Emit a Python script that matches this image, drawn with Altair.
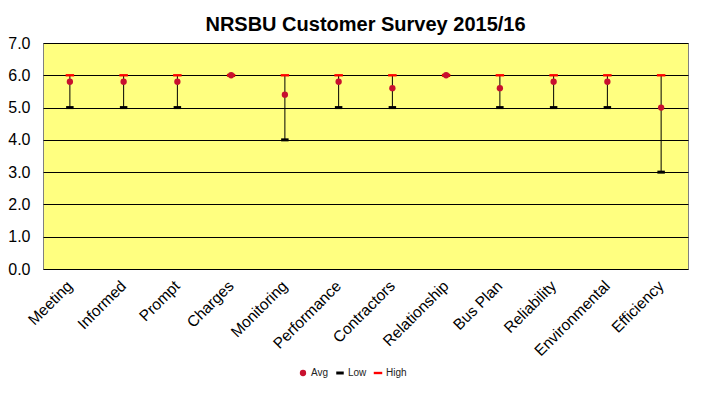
import altair as alt
import pandas as pd

categories = ["Meeting", "Informed", "Prompt", "Charges", "Monitoring", "Performance",
              "Contractors", "Relationship", "Bus Plan", "Reliability", "Environmental", "Efficiency"]
avg = [5.8, 5.8, 5.8, 6.0, 5.4, 5.8, 5.6, 6.0, 5.6, 5.8, 5.8, 5.0]
low = [5, 5, 5, 6, 4, 5, 5, 6, 5, 5, 5, 3]
high = [6, 6, 6, 6, 6, 6, 6, 6, 6, 6, 6, 6]
series = ["Avg", "Low", "High"]
y_ticks = [0, 1, 2, 3, 4, 5, 6, 7]

df = pd.DataFrame({"cat": categories, "avg": avg, "low": low, "high": high})
order = {"Low": 0, "High": 1, "Avg": 2}
long_rows = []
for name, vals in (("Low", low), ("High", high), ("Avg", avg)):
    for c, v in zip(categories, vals):
        long_rows.append({"cat": c, "series": name, "value": v, "ord": order[name]})
long_df = pd.DataFrame(long_rows)

FONT = "Liberation Sans"
low_path = "M-1,-0.4L1,-0.4L1,0.4L-1,0.4Z"
high_path = "M-1,-0.28L1,-0.28L1,0.28L-1,0.28Z"

x_enc = alt.X("cat:N", sort=categories, title=None,
              scale=alt.Scale(paddingInner=0, paddingOuter=0),
              axis=alt.Axis(labelAngle=-45, labelAlign="right", labelBaseline="middle",
                            labelPadding=14, ticks=False, domain=False, labelFontSize=15.5,
                            labelColor="black", labelFont=FONT, grid=False))
y_scale = alt.Scale(domain=[0, 7], nice=False)
y_axis = alt.Axis(values=y_ticks, format=".1f", title=None, ticks=False, domain=False,
                  labelFontSize=16, labelColor="black", labelFont=FONT, labelPadding=13,
                  labelOverlap=False, tickCount=8,
                  grid=True, gridColor="black", gridWidth=1, gridOpacity=1)

color_scale = alt.Scale(domain=series, range=["#C8102E", "black", "#FF0000"])
shape_scale = alt.Scale(domain=series, range=["circle", low_path, high_path])
size_scale = alt.Scale(domain=series, range=[40, 72, 72])
legend = alt.Legend(orient="none", direction="horizontal", legendX=255, legendY=325,
                    title=None, labelFontSize=10, labelFont=FONT, labelColor="#222222",
                    symbolSize=30, columnPadding=6, labelOffset=3, symbolStrokeWidth=0)

rules = alt.Chart(df).mark_rule(color="black", strokeWidth=1).encode(
    x=x_enc, y=alt.Y("low:Q", scale=y_scale, axis=y_axis), y2="high:Q")

markers = alt.Chart(long_df).mark_point(filled=True, opacity=1).encode(
    x=alt.X("cat:N", sort=categories),
    y=alt.Y("value:Q", scale=y_scale, axis=y_axis),
    color=alt.Color("series:N", scale=color_scale, legend=legend),
    shape=alt.Shape("series:N", scale=shape_scale, legend=legend),
    size=alt.Size("series:N", scale=size_scale, legend=None),
    order=alt.Order("ord:Q"),
)

chart = alt.layer(rules, markers).properties(
    width=645, height=226,
    view=alt.ViewBackground(fill="#FFFF80", stroke="#808080", strokeWidth=1),
    title=alt.Title("NRSBU  Customer  Survey  2015/16", fontSize=20, font=FONT,
                    fontWeight="bold", color="black", offset=0, anchor="middle"),
    autosize=alt.AutoSizeParams(type="none"),
    padding={"left": 35, "top": 35, "right": 5, "bottom": 120},
).configure(background="white")

chart.save("out.html", embed_options={"renderer": "svg", "actions": False})
